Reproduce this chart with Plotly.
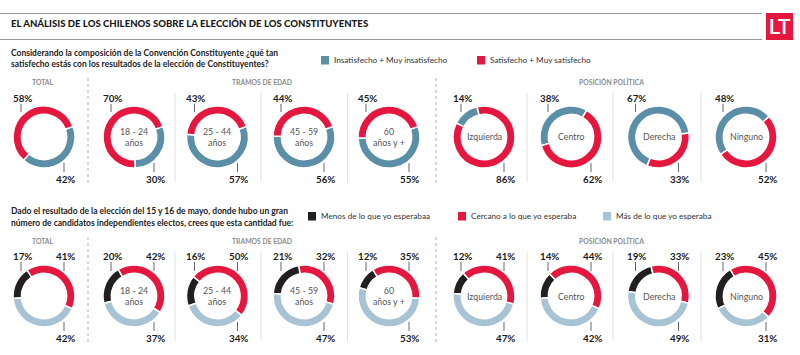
import plotly.graph_objects as go

W, H = 800, 355

# ---------------- data ----------------
title = "EL ANÁLISIS DE LOS CHILENOS SOBRE LA ELECCIÓN DE LOS CONSTITUYENTES"
q1_lines = ["Considerando la composición de la Convención Constituyente ¿qué tan",
            "satisfecho estás con los resultados de la elección de Constituyentes?"]
q2_lines = ["Dado el resultado de la elección del 15 y 16 de mayo, donde hubo un gran",
            "número de candidatos independientes electos, crees que esta cantidad fue:"]
section_titles = ["TOTAL", "TRAMOS DE EDAD", "POSICIÓN POLÍTICA"]
groups = ["Total", "18 - 24 años", "25 - 44 años", "45 - 59 años", "60 años y +",
          "Izquierda", "Centro", "Derecha", "Ninguno"]
center_labels = ["", "18 - 24<br>años", "25 - 44<br>años", "45 - 59<br>años", "60<br>años y +",
                 "Izquierda", "Centro", "Derecha", "Ninguno"]
group_kind = ["total", "age", "age", "age", "age", "pol", "pol", "pol", "pol"]

q1_series = ["Insatisfecho + Muy insatisfecho", "Satisfecho + Muy satisfecho"]
insatisfecho = [42, 30, 57, 56, 55, 14, 38, 67, 48]
satisfecho = [58, 70, 43, 44, 45, 86, 62, 33, 52]

q2_series = ["Menos de lo que yo esperabaa", "Cercano a lo que yo esperaba", "Más de lo que yo esperaba"]
menos = [17, 20, 16, 21, 12, 12, 14, 19, 23]
cercano = [41, 42, 50, 32, 35, 41, 44, 33, 45]
mas = [42, 37, 34, 47, 53, 47, 42, 49, 31]

# ---------------- style ----------------
BLUE = "#5b8ea7"
RED = "#e5173f"
BLACK = "#231f20"
LBLUE = "#a8c3d3"
GRAY = "#8c8c8c"
FONT = "Lato"

centers_x = [44, 134, 217.5, 304, 389, 484, 571, 658.5, 746]
cy_top, cy_bot = 137, 296
R = 31
HOLE = 0.73


def fx(x):
    return x / W


def fy(y):
    return 1 - y / H


fig = go.Figure()
annotations = []
shapes = []


def text(x, y, t, size, color="#222", bold=False, xanchor="center", family=FONT, weight=None):
    f = dict(family=family, size=size, color=color)
    if weight is not None:
        f["weight"] = weight
        t2 = t
    else:
        t2 = ("<b>%s</b>" % t) if bold else t
    annotations.append(dict(
        x=fx(x), y=fy(y), xref="paper", yref="paper", showarrow=False,
        text=t2, xanchor=xanchor, yanchor="middle", borderpad=0,
        font=f, align="center"))


def line(x0, y0, x1, y1, color="#555", width=1, dash="solid"):
    shapes.append(dict(type="line", xref="paper", yref="paper",
                       x0=fx(x0), y0=fy(y0), x1=fx(x1), y1=fy(y1),
                       line=dict(color=color, width=width, dash=dash)))


def rect(x0, y0, x1, y1, color):
    shapes.append(dict(type="rect", xref="paper", yref="paper",
                       x0=fx(x0), y0=fy(y0), x1=fx(x1), y1=fy(y1),
                       fillcolor=color, line=dict(width=0)))


def norm(a):
    while a > 360:
        a -= 360
    while a < -360:
        a += 360
    return a


def donut(cx, cy, labels, values, colors, rotation, name):
    fig.add_trace(go.Pie(
        labels=labels, values=values, sort=False, direction="clockwise",
        rotation=norm(rotation), hole=HOLE, textinfo="none", name=name,
        marker=dict(colors=colors, line=dict(color="white", width=1.5)),
        domain=dict(x=[fx(cx - R), fx(cx + R)], y=[fy(cy + R), fy(cy - R)]),
        showlegend=False, hovertemplate="%{label}: %{value}%<extra>" + name + "</extra>"))


# ---------------- header ----------------
line(0, 13.5, 762, 13.5, "#9a9a9a", 1)
line(0, 39.5, 762, 39.5, "#9a9a9a", 1)
text(10, 23, title, 9.6, "#1a1a1a", xanchor="left", weight=900)
rect(766, 13, 793, 40, RED)
text(779.5, 27, "LT", 21, "white", family="Roboto", weight=500)

# ---------------- section 1 ----------------
text(10, 52.5, q1_lines[0], 8.5, "#222", bold=True, xanchor="left")
text(10, 64, q1_lines[1], 8.5, "#222", bold=True, xanchor="left")
rect(321, 56, 329, 64.5, BLUE)
text(333, 60, q1_series[0], 8.2, "#333", xanchor="left")
rect(477, 56, 485, 64.5, RED)
text(489, 60, q1_series[1], 8.2, "#333", xanchor="left")

# ---------------- section 2 ----------------
text(10, 211, q2_lines[0], 8.5, "#222", bold=True, xanchor="left")
text(10, 222.5, q2_lines[1], 8.5, "#222", bold=True, xanchor="left")
rect(308, 212, 316, 220.5, BLACK)
text(320, 216, q2_series[0], 8.2, "#333", xanchor="left")
rect(458, 212, 466, 220.5, RED)
text(470, 216, q2_series[1], 8.2, "#333", xanchor="left")
rect(603, 212, 611, 220.5, LBLUE)
text(615, 216, q2_series[2], 8.2, "#333", xanchor="left")

# section titles & separators for both rows
for cy in (cy_top, cy_bot):
    hy = cy - 55
    text(43, hy, section_titles[0], 6.8, GRAY, bold=True)
    text(262, hy, section_titles[1], 6.8, GRAY, bold=True)
    text(611, hy, section_titles[2], 6.8, GRAY, bold=True)
    line(88, hy - 4, 88, cy + 46, "#b0b0b0", 1, "dot")
    line(436, hy - 4, 436, cy + 46, "#b0b0b0", 1, "dot")
    for sx in (175, 261, 347.5, 527, 613, 701):
        line(sx, cy - 44, sx, cy + 45, "#e2e2e2", 1)

# ---------------- donuts ----------------
LBL = 9.8
for i, g in enumerate(groups):
    cx = centers_x[i]
    # top row
    bdeg = insatisfecho[i] * 3.6
    if group_kind[i] == "pol":
        rot = 322 - bdeg / 2
        tl, br = insatisfecho[i], satisfecho[i]
    else:
        rot = 70
        tl, br = satisfecho[i], insatisfecho[i]
    donut(cx, cy_top, q1_series, [insatisfecho[i], satisfecho[i]], [BLUE, RED], rot, g)
    text(cx - 22, cy_top - 39, "%d%%" % tl, LBL, "#1a1a1a", bold=True)
    text(cx + 21, cy_top + 42, "%d%%" % br, LBL, "#1a1a1a", bold=True)
    line(cx - 23, cy_top - 33, cx - 23, cy_top - 25, "#666", 1)
    line(cx + 20, cy_top + 26, cx + 20, cy_top + 35, "#666", 1)

    # bottom row
    mdeg = mas[i] * 3.6
    rot2 = 190 + mdeg / 2 - 360
    donut(cx, cy_bot, q2_series, [menos[i], cercano[i], mas[i]], [BLACK, RED, LBLUE], rot2, g)
    text(cx - 22, cy_bot - 40, "%d%%" % menos[i], LBL, "#1a1a1a", bold=True)
    text(cx + 21, cy_bot - 40, "%d%%" % cercano[i], LBL, "#1a1a1a", bold=True)
    text(cx + 21, cy_bot + 42, "%d%%" % mas[i], LBL, "#1a1a1a", bold=True)
    line(cx - 23, cy_bot - 34, cx - 23, cy_bot - 25, "#666", 1)
    line(cx + 20, cy_bot - 34, cx + 20, cy_bot - 25, "#666", 1)
    line(cx + 20, cy_bot + 26, cx + 20, cy_bot + 35, "#666", 1)

    if center_labels[i]:
        for cy in (cy_top, cy_bot):
            text(cx, cy, center_labels[i], 8.8, "#555", weight=400)

fig.update_layout(
    width=W, height=H, margin=dict(l=0, r=0, t=0, b=0),
    paper_bgcolor="white", plot_bgcolor="white",
    annotations=annotations, shapes=shapes,
    font=dict(family=FONT),
)

fig.write_html("out.html", config={"displayModeBar": False},
               post_script="document.body.style.margin='0';document.body.style.overflow='hidden';")
